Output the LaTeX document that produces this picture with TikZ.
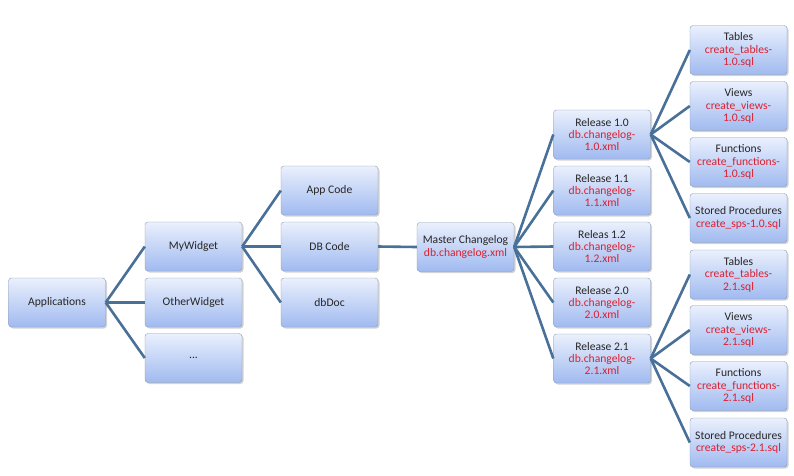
\documentclass[tikz,border=0pt]{standalone}
\usepackage{fontspec}
\setmainfont{Carlito}
\usepackage{tikz}
\usetikzlibrary{positioning,shadows}
\definecolor{linkblue}{RGB}{72,112,152}
\definecolor{boxtop}{RGB}{234,240,253}
\definecolor{boxbot}{RGB}{160,186,240}
\definecolor{boxline}{RGB}{140,155,178}
\definecolor{redtxt}{RGB}{220,32,48}
\newcommand{\fname}[1]{\textcolor{redtxt}{#1}}

\begin{document}
\begin{tikzpicture}[x=1pt,y=1pt]
	\tikzset{tbox/.style={rectangle,rounded corners=3pt,draw=boxline,top color=boxtop,bottom color=boxbot,
		minimum width=97pt,minimum height=49pt,inner sep=1pt,align=center,text=black!85,
		font=\fontsize{11.6}{12.4}\selectfont,drop shadow={shadow xshift=1.5pt,shadow yshift=-1.5pt,opacity=0.35}}}
	\tikzset{link/.style={-,draw=linkblue,line width=2.6pt}}
	\useasboundingbox (0,0) rectangle (794,-475);
	\node[tbox] (apps)   at (57,-302.5)    {Applications};
	\node[tbox] (mywid)  at (193.5,-246.5) {MyWidget};
	\node[tbox] (othwid) at (193.5,-302.5) {OtherWidget};
	\node[tbox] (more)   at (193.5,-358)   {...};
	\node[tbox] (app)    at (329.5,-190.5) {App Code};
	\node[tbox] (dbc)    at (329.5,-246.5) {DB Code};
	\node[tbox] (dbdoc)  at (329.5,-302.5) {dbDoc};
	\node[tbox] (master) at (465.5,-247)   {Master Changelog\\\fname{db.changelog.xml}};
	\node[tbox] (rA)     at (602,-134.5)   {Release 1.0\\\fname{db.changelog-}\\\fname{1.0.xml}};
	\node[tbox] (rB)     at (602,-190.5)   {Release 1.1\\\fname{db.changelog-}\\\fname{1.1.xml}};
	\node[tbox] (rC)     at (602,-246.5)   {Releas 1.2\\\fname{db.changelog-}\\\fname{1.2.xml}};
	\node[tbox] (rD)     at (602,-302.5)   {Release 2.0\\\fname{db.changelog-}\\\fname{2.0.xml}};
	\node[tbox] (rE)     at (602,-358.5)   {Release 2.1\\\fname{db.changelog-}\\\fname{2.1.xml}};
	\node[tbox] (tabA)   at (738.5,-50)    {Tables\\\fname{create\_tables-}\\\fname{1.0.sql}};
	\node[tbox] (viewA)  at (738.5,-106)   {Views\\\fname{create\_views-}\\\fname{1.0.sql}};
	\node[tbox] (funcA)  at (738.5,-162)   {Functions\\\fname{create\_functions-}\\\fname{1.0.sql}};
	\node[tbox] (spsA)   at (738.5,-218)   {Stored Procedures\\\fname{create\_sps-1.0.sql}};
	\node[tbox] (tabE)   at (738.5,-274.5) {Tables\\\fname{create\_tables-}\\\fname{2.1.sql}};
	\node[tbox] (viewE)  at (738.5,-330)   {Views\\\fname{create\_views-}\\\fname{2.1.sql}};
	\node[tbox] (funcE)  at (738.5,-386)   {Functions\\\fname{create\_functions-}\\\fname{2.1.sql}};
	\node[tbox] (spsE)   at (738.5,-442.5) {Stored Procedures\\\fname{create\_sps-2.1.sql}};
	\path
	(apps.east)   edge [link] (mywid.west)
	(apps.east)   edge [link] (othwid.west)
	(apps.east)   edge [link] (more.west)
	(mywid.east)  edge [link] (app.west)
	(mywid.east)  edge [link] (dbc.west)
	(mywid.east)  edge [link] (dbdoc.west)
	(dbc.east)    edge [link] (master.west)
	(master.east) edge [link] (rA.west)
	(master.east) edge [link] (rB.west)
	(master.east) edge [link] (rC.west)
	(master.east) edge [link] (rD.west)
	(master.east) edge [link] (rE.west)
	(rA.east)     edge [link] (tabA.west)
	(rA.east)     edge [link] (viewA.west)
	(rA.east)     edge [link] (funcA.west)
	(rA.east)     edge [link] (spsA.west)
	(rE.east)     edge [link] (tabE.west)
	(rE.east)     edge [link] (viewE.west)
	(rE.east)     edge [link] (funcE.west)
	(rE.east)     edge [link] (spsE.west);
\end{tikzpicture}
\end{document}
